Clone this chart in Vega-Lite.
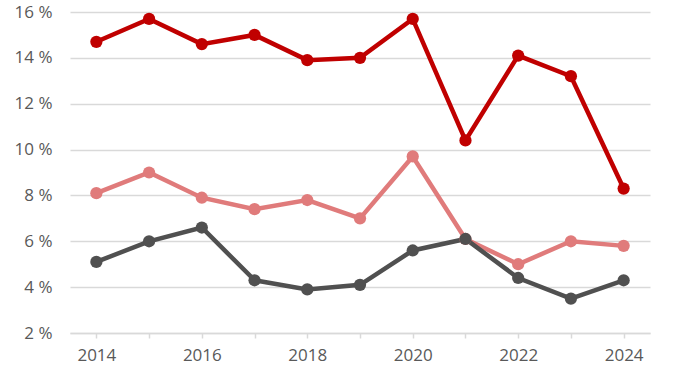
{
  "$schema": "https://vega.github.io/schema/vega-lite/v6.json",
  "width": 580,
  "height": 321,
  "autosize": {"type": "none"},
  "padding": {"left": 70, "top": 12, "right": 23, "bottom": 43},
  "background": "white",
  "config": {"view": {"stroke": null}, "font": "Open Sans"},
  "data": {"values": [
    {"year": 2014, "series": "Serie 1", "value": 14.7},
    {"year": 2015, "series": "Serie 1", "value": 15.7},
    {"year": 2016, "series": "Serie 1", "value": 14.6},
    {"year": 2017, "series": "Serie 1", "value": 15.0},
    {"year": 2018, "series": "Serie 1", "value": 13.9},
    {"year": 2019, "series": "Serie 1", "value": 14.0},
    {"year": 2020, "series": "Serie 1", "value": 15.7},
    {"year": 2021, "series": "Serie 1", "value": 10.4},
    {"year": 2022, "series": "Serie 1", "value": 14.1},
    {"year": 2023, "series": "Serie 1", "value": 13.2},
    {"year": 2024, "series": "Serie 1", "value": 8.3},
    {"year": 2014, "series": "Serie 2", "value": 8.1},
    {"year": 2015, "series": "Serie 2", "value": 9.0},
    {"year": 2016, "series": "Serie 2", "value": 7.9},
    {"year": 2017, "series": "Serie 2", "value": 7.4},
    {"year": 2018, "series": "Serie 2", "value": 7.8},
    {"year": 2019, "series": "Serie 2", "value": 7.0},
    {"year": 2020, "series": "Serie 2", "value": 9.7},
    {"year": 2021, "series": "Serie 2", "value": 6.1},
    {"year": 2022, "series": "Serie 2", "value": 5.0},
    {"year": 2023, "series": "Serie 2", "value": 6.0},
    {"year": 2024, "series": "Serie 2", "value": 5.8},
    {"year": 2014, "series": "Serie 3", "value": 5.1},
    {"year": 2015, "series": "Serie 3", "value": 6.0},
    {"year": 2016, "series": "Serie 3", "value": 6.6},
    {"year": 2017, "series": "Serie 3", "value": 4.3},
    {"year": 2018, "series": "Serie 3", "value": 3.9},
    {"year": 2019, "series": "Serie 3", "value": 4.1},
    {"year": 2020, "series": "Serie 3", "value": 5.6},
    {"year": 2021, "series": "Serie 3", "value": 6.1},
    {"year": 2022, "series": "Serie 3", "value": 4.4},
    {"year": 2023, "series": "Serie 3", "value": 3.5},
    {"year": 2024, "series": "Serie 3", "value": 4.3}
  ]},
  "mark": {"type": "line", "strokeWidth": 4.5, "point": {"size": 150, "filled": true, "opacity": 1}},
  "encoding": {
    "x": {
      "field": "year", "type": "quantitative",
      "scale": {"domain": [2013.5, 2024.5], "nice": false, "zero": false},
      "axis": {
        "title": null, "grid": false,
        "values": [2014, 2015, 2016, 2017, 2018, 2019, 2020, 2021, 2022, 2023, 2024],
        "labelExpr": "datum.value % 2 == 0 ? datum.label : ''",
        "format": "d",
        "domainColor": "#d9d9d9", "domainWidth": 1.5,
        "tickColor": "#d9d9d9", "tickSize": 5, "tickWidth": 1.5,
        "labelColor": "#595959", "labelFontSize": 17, "labelPadding": 9,
        "labelFlush": false
      }
    },
    "y": {
      "field": "value", "type": "quantitative",
      "scale": {"domain": [2, 16], "nice": false, "zero": false},
      "axis": {
        "title": null, "values": [2, 4, 6, 8, 10, 12, 14, 16],
        "labelExpr": "datum.value + ' %'",
        "domain": false, "ticks": false,
        "gridColor": "#d9d9d9", "gridWidth": 1.5,
        "labelColor": "#595959", "labelFontSize": 17, "labelPadding": 18
      }
    },
    "color": {
      "field": "series", "type": "nominal",
      "scale": {"domain": ["Serie 1", "Serie 2", "Serie 3"], "range": ["#C00000", "#E07B7B", "#505050"]},
      "legend": null
    }
  }
}
